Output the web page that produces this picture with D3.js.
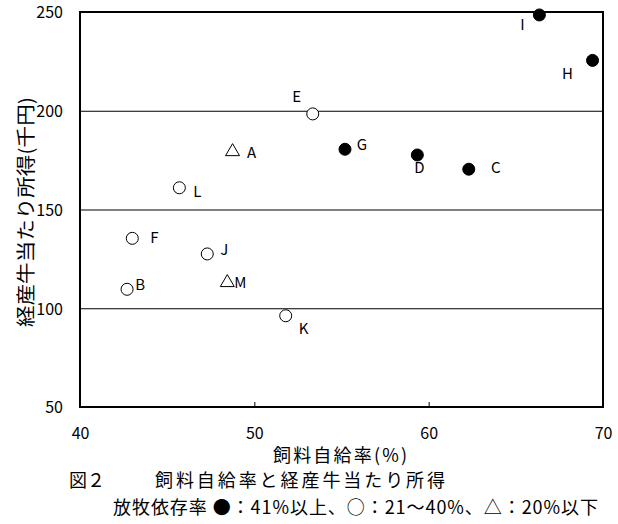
<!DOCTYPE html>
<html>
<head>
<meta charset="utf-8">
<script src="https://cdn.jsdelivr.net/npm/d3@7"></script>
<style>
  body { margin: 0; background: #fff; }
  svg text { font-family: 'Noto Sans CJK JP', 'Noto Sans', sans-serif; fill: #000; }
</style>
</head>
<body>
<div id="chart-container"></div>
<script>
// 飼料自給率と経産牛当たり所得 (scatter)
const farms = ['A', 'B', 'C', 'D', 'E', 'F', 'G', 'H', 'I', 'J', 'K', 'L', 'M'];
const feedRate = [48.75, 42.7, 62.3, 59.35, 53.35, 43.0, 55.2, 69.4, 66.35, 47.3, 51.8, 45.7, 48.45];
const income = [179.8, 109.6, 170.4, 177.6, 198.4, 135.4, 180.5, 225.5, 248.5, 127.5, 96.2, 161.0, 113.5];
// grazing dependence group: 'high' = 41%以上, 'mid' = 21~40%, 'low' = 20%以下
const grazing = ['low', 'mid', 'high', 'high', 'mid', 'mid', 'high', 'high', 'high', 'mid', 'mid', 'mid', 'low'];
const xTicks = [40, 50, 60, 70];
const yTicks = [50, 100, 150, 200, 250];

// label offsets from the marker (px)
const labelOffset = {
  A: [19, 1], B: [13, -6], C: [27, -3], D: [2, 12], E: [-16, -18], F: [22, -2], G: [17, -6],
  H: [-25, 12], I: [-17, 9], J: [17, -5], K: [18, 12], L: [18, 3], M: [13, 0]
};

const svgWidth = 618;
const svgHeight = 524;
const plotLeft = 80, plotRight = 603, plotTop = 12, plotBottom = 407;

const svg = d3.select('#chart-container')
  .append('svg')
  .attr('width', svgWidth)
  .attr('height', svgHeight);

const xScale = d3.scaleLinear().domain([40, 70]).range([plotLeft, plotRight]);
const yScale = d3.scaleLinear().domain([50, 250]).range([plotBottom, plotTop]);

// gridlines + y tick labels
const yAxis = d3.axisLeft(yScale).tickValues(yTicks).tickSize(-(plotRight - plotLeft)).tickPadding(17);
const gy = svg.append('g').attr('transform', 'translate(' + plotLeft + ',0)').call(yAxis);
gy.select('.domain').remove();
gy.selectAll('line').attr('stroke', '#000').attr('stroke-width', 1);
gy.selectAll('text').style('font-size', '16px').attr('dy', '0.36em');

// x ticks (inward) and labels
const xAxis = d3.axisBottom(xScale).tickValues(xTicks).tickSize(-5).tickPadding(21);
const gx = svg.append('g').attr('transform', 'translate(0,' + plotBottom + ')').call(xAxis);
gx.select('.domain').remove();
gx.selectAll('line').attr('stroke', '#000');
gx.selectAll('text').style('font-size', '16px');

// frame
svg.append('rect')
  .attr('x', plotLeft).attr('y', plotTop)
  .attr('width', plotRight - plotLeft).attr('height', plotBottom - plotTop)
  .attr('fill', 'none').attr('stroke', '#000').attr('stroke-width', 2);

const data = farms.map((f, i) => ({ name: f, x: feedRate[i], y: income[i], g: grazing[i] }));

// markers
const marks = svg.selectAll('.mark').data(data).enter().append('g')
  .attr('class', 'mark')
  .attr('transform', d => 'translate(' + xScale(d.x) + ',' + yScale(d.y) + ')');

marks.filter(d => d.g !== 'low').append('circle')
  .attr('r', 6)
  .attr('fill', d => d.g === 'high' ? '#000' : '#fff')
  .attr('stroke', '#000')
  .attr('stroke-width', 1);

marks.filter(d => d.g === 'low').append('path')
  .attr('d', 'M0,-7L7,5L-7,5Z')
  .attr('fill', '#fff')
  .attr('stroke', '#000')
  .attr('stroke-width', 1);

// point labels
svg.selectAll('.plabel').data(data).enter().append('text')
  .attr('class', 'plabel')
  .attr('x', d => xScale(d.x) + labelOffset[d.name][0])
  .attr('y', d => yScale(d.y) + labelOffset[d.name][1])
  .attr('text-anchor', 'middle')
  .attr('dominant-baseline', 'central')
  .style('font-size', '15px')
  .text(d => d.name);

// axis titles
svg.append('text')
  .attr('transform', 'translate(24,212) rotate(-90)')
  .attr('x', -115)
  .attr('dominant-baseline', 'central')
  .attr('textLength', 230)
  .attr('lengthAdjust', 'spacingAndGlyphs')
  .style('font-size', '19px')
  .text('経産牛当たり所得(千円)');

svg.append('text')
  .attr('x', 273).attr('y', 454)
  .attr('dominant-baseline', 'central')
  .attr('textLength', 134)
  .style('font-size', '18px')
  .text('飼料自給率(%)');

// caption
svg.append('text')
  .attr('x', 69).attr('y', 479)
  .attr('dominant-baseline', 'central')
  .attr('textLength', 36)
  .style('font-size', '18px')
  .text('図２');

svg.append('text')
  .attr('x', 155).attr('y', 479)
  .attr('dominant-baseline', 'central')
  .attr('textLength', 290)
  .style('font-size', '18px')
  .text('飼料自給率と経産牛当たり所得');

svg.append('text')
  .attr('x', 113).attr('y', 506)
  .attr('dominant-baseline', 'central')
  .attr('textLength', 485)
  .style('font-size', '18px')
  .text('放牧依存率 ●：41%以上、○：21～40%、△：20%以下');
</script>
</body>
</html>
